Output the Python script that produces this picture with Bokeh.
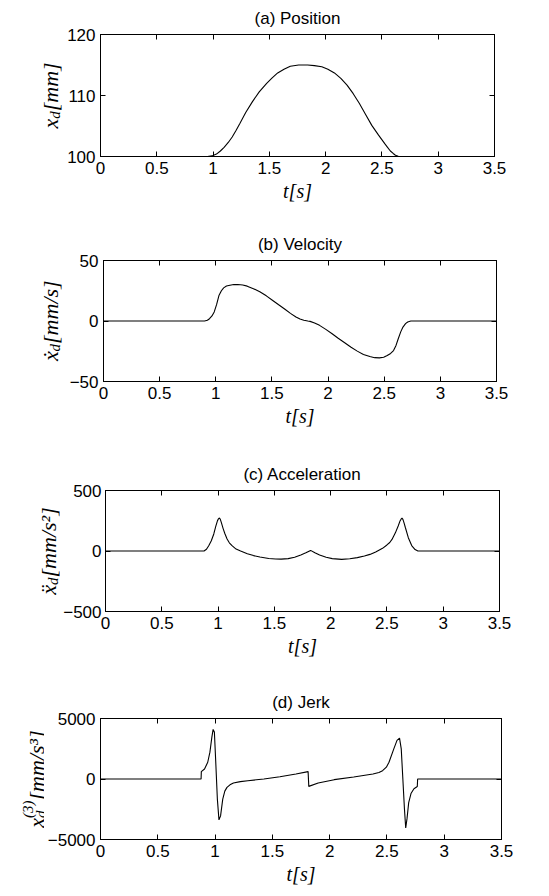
import math
from bokeh.plotting import figure
from bokeh.models import Range1d, FixedTicker, LinearAxis
from bokeh.layouts import column, row
from bokeh.core.properties import value
from bokeh.embed import file_html
from bokeh.resources import INLINE

# ---------------- data ----------------
x_ticks = [0, 0.5, 1, 1.5, 2, 2.5, 3, 3.5]
x_tick_labels = ["0", "0.5", "1", "1.5", "2", "2.5", "3", "3.5"]

# (a) position [mm]
t_pos = [0.0, 0.95, 0.99, 1.03, 1.065, 1.098, 1.135, 1.17, 1.205, 1.238, 1.29,
         1.35, 1.41, 1.476, 1.525, 1.574, 1.63, 1.686, 1.76, 1.84, 1.90,
         1.966, 2.02, 2.078, 2.135, 2.19, 2.245, 2.30, 2.355, 2.41, 2.47,
         2.525, 2.55, 2.575, 2.60, 2.62, 2.645, 2.67, 3.5]
x_pos = [100.0, 100.0, 100.1, 100.4, 100.9, 101.5, 102.3, 103.2, 104.3, 105.4, 107.2,
         109.0, 110.6, 112.0, 112.9, 113.7, 114.3, 114.8, 115.0, 115.0, 114.9,
         114.7, 114.3, 113.7, 112.8, 111.7, 110.3, 108.7, 106.9, 105.1, 103.5,
         102.1, 101.5, 100.9, 100.5, 100.2, 100.05, 100.0, 100.0]

# (b) velocity [mm/s]
t_vel = [0.0, 0.90, 0.925, 0.944, 0.966, 0.986, 1.007, 1.028, 1.05, 1.07, 1.095,
         1.126, 1.16, 1.196, 1.24, 1.28, 1.335, 1.392, 1.45, 1.504, 1.56,
         1.616, 1.665, 1.714, 1.75, 1.784, 1.82, 1.84, 1.88, 1.924, 1.98,
         2.036, 2.09, 2.148, 2.205, 2.26, 2.315, 2.372, 2.415, 2.457, 2.495,
         2.527, 2.557, 2.583, 2.605, 2.625, 2.647, 2.667, 2.69, 2.709, 2.737, 3.5]
v_vel = [0.0, 0.0, 0.6, 1.9, 4.2, 7.5, 13.5, 21.0, 25.0, 27.4, 28.9,
         29.6, 30.1, 30.2, 29.7, 28.8, 26.7, 24.1, 20.8, 17.2, 13.4,
         9.7, 6.3, 3.3, 1.6, 0.6, 0.0, -0.3, -1.6, -3.6, -6.9,
         -10.5, -14.3, -18.0, -21.7, -24.9, -27.6, -29.4, -30.3, -30.5, -30.0,
         -28.5, -26.8, -24.4, -20.2, -14.7, -9.0, -5.0, -2.2, -0.8, 0.0, 0.0]

# (c) acceleration [mm/s^2]
t_acc = [0.0, 0.875, 0.897, 0.917, 0.94, 0.962, 0.98, 0.995, 1.005, 1.012, 1.02,
         1.03, 1.045, 1.06, 1.08, 1.10, 1.124, 1.16, 1.2, 1.26, 1.315, 1.372, 1.45,
         1.511, 1.56, 1.623, 1.68, 1.735, 1.78, 1.822, 1.86, 1.902, 1.96, 2.014,
         2.098, 2.17, 2.237, 2.30, 2.349, 2.40, 2.461, 2.50, 2.525, 2.545, 2.575,
         2.60, 2.615, 2.627, 2.634, 2.642, 2.652, 2.665, 2.69, 2.72, 2.75, 2.775, 3.5]
a_acc = [0.0, 0.0, 15.0, 44.0, 85.0, 141.0, 205.0, 251.0, 268.0, 273.0, 262.0,
         232.0, 185.0, 145.0, 99.0, 68.0, 44.0, 16.0, 0.0, -22.0, -38.0, -50.0, -62.0,
         -66.0, -67.0, -63.0, -52.0, -33.0, -15.0, 5.0, -15.0, -33.0, -52.0, -63.0,
         -69.0, -64.0, -55.0, -42.0, -28.0, -8.0, 22.0, 50.0, 70.0, 96.0, 150.0,
         207.0, 245.0, 265.0, 272.0, 262.0, 232.0, 190.0, 110.0, 45.0, 12.0, 0.0, 0.0]

# (d) jerk [mm/s^3]
t_jerk = [0.0, 0.878, 0.88, 0.908, 0.936, 0.955, 0.972, 0.983, 0.994, 1.006,
          1.02, 1.034, 1.048, 1.067, 1.085, 1.104, 1.13, 1.16, 1.22, 1.286, 1.426, 1.566,
          1.706, 1.812, 1.818, 1.90, 2.04, 2.21, 2.378, 2.43, 2.462, 2.495, 2.518, 2.56,
          2.588, 2.61, 2.625, 2.639, 2.653, 2.664, 2.675, 2.69, 2.71, 2.736,
          2.765, 2.768, 3.5]
j_jerk = [0.0, 0.0, 610.0, 830.0, 1385.0, 2216.0, 3460.0, 4100.0, 3880.0, 1385.0,
          -1660.0, -3380.0, -3050.0, -1660.0, -1000.0, -690.0, -480.0, -330.0, -220.0, -140.0, 0.0, 190.0,
          415.0, 610.0, -610.0, -330.0, -55.0, 166.0, 415.0, 540.0, 690.0, 980.0, 1385.0, 2490.0,
          3190.0, 3380.0, 2490.0, 0.0, -2490.0, -4050.0, -3300.0, -1950.0, -1200.0, -800.0,
          -620.0, 0.0, 0.0]

titles = ["(a) Position", "(b) Velocity", "(c) Acceleration", "(d) Jerk"]
y_ranges = [(100, 120), (-50, 50), (-500, 500), (-5000, 5000)]
y_ticks = [[100, 110, 120], [-50, 0, 50], [-500, 0, 500], [-5000, 0, 5000]]
y_tick_labels = [["100", "110", "120"], ["\u221250", "0", "50"],
                 ["\u2212500", "0", "500"], ["\u22125000", "0", "5000"]]

# y-axis label pieces: (text, role) role: main / sub / sup
ylabel_pieces = [
    [("x", "main"), ("d", "sub"), ("[mm]", "main")],
    [("\u1e8b", "main"), ("d", "sub"), ("[mm/s]", "main")],
    [("\u1e8d", "main"), ("d", "sub"), ("[mm/s\u00b2]", "main")],
    [("x", "main"), ("(3)", "sup"), ("d", "sub"), ("[mm/s\u00b3]", "main")],
]

# ---------------- styling / layout ----------------
TOTAL_W = 540
SANS = "Liberation Sans"
SERIF = "Liberation Serif"
TICK_FS = "17px"
LAB = 22      # y-label main size
SUB = 15      # sub/superscript size

# per panel: fig height, border top, border bottom, frame left (page), frame right (page),
#            label strip width, label baseline x, y tick-label standoff
geo = [
    (226, 34, 70, 98, 494, 64, 50, 5),
    (228, 33, 73, 101, 496, 66, 50, 5),
    (228, 36, 71, 102, 499, 60, 48, 4),
    (208, 36, 51, 97, 501, 44, 36, 5),
]

# approximate advance widths (em) of the serif italic glyphs
ADV = {"x": .444, "\u1e8b": .444, "\u1e8d": .444, "d": .5, "(": .333, ")": .333,
       "3": .5, "[": .389, "]": .389, "m": .722, "/": .278, "s": .389,
       "\u00b2": .3, "\u00b3": .3}


def width(txt, size):
    return sum(ADV.get(c, .5) for c in txt) * size


def style_axis(ax, ticks, labels, show, standoff=5):
    ax.ticker = FixedTicker(ticks=ticks)
    ax.major_label_overrides = {float(k): v for k, v in zip(ticks, labels)}
    ax.minor_tick_line_color = None
    ax.major_tick_in = 5
    ax.major_tick_out = 0
    ax.axis_line_color = "black"
    ax.axis_line_width = 1
    ax.major_tick_line_color = "black"
    ax.major_label_text_font = SANS
    ax.major_label_text_color = "black"
    if show:
        ax.major_label_text_font_size = TICK_FS
        ax.major_label_standoff = standoff
    else:
        ax.major_label_text_font_size = "0px"
        ax.major_label_standoff = 0
        ax.axis_label = None


series = [(t_pos, x_pos), (t_vel, v_vel), (t_acc, a_acc), (t_jerk, j_jerk)]
rows = []
for i in range(4):
    h, bt, bb, fl, fr, lw, xb, ysd = geo[i]
    mw = TOTAL_W - lw
    fh = h - bt - bb
    p = figure(width=mw, height=h, x_range=Range1d(0, 3.5),
               y_range=Range1d(*y_ranges[i]), output_backend="svg",
               toolbar_location=None, min_border_left=fl - lw,
               min_border_right=TOTAL_W - fr,
               min_border_top=bt, min_border_bottom=bb)
    p.grid.visible = False
    p.outline_line_color = "black"
    p.background_fill_color = "white"
    p.border_fill_color = "white"

    bottom = p.xaxis[0]
    left = p.yaxis[0]
    style_axis(bottom, x_ticks, x_tick_labels, True)
    style_axis(left, y_ticks[i], y_tick_labels[i], True, ysd)
    top = LinearAxis()
    style_axis(top, x_ticks, x_tick_labels, False)
    p.add_layout(top, "above")
    right = LinearAxis()
    style_axis(right, y_ticks[i], y_tick_labels[i], False)
    p.add_layout(right, "right")

    bottom.axis_label = "t[s]"
    bottom.axis_label_text_font = SERIF
    bottom.axis_label_text_font_style = "italic"
    bottom.axis_label_text_font_size = "20px"
    bottom.axis_label_standoff = 3
    bottom.axis_label_text_color = "black"

    p.title.text = titles[i]
    p.title.align = "center"
    p.title.text_font = SANS
    p.title.text_font_style = "normal"
    p.title.text_font_size = "17px"
    p.title.text_color = "black"
    p.title.standoff = 13

    t, v = series[i]
    p.line(t, v, line_color="black", line_width=1.1)

    # label strip (left of the panel); its frame spans the same rows as the
    # panel frame, and its data units are pixels inside that frame
    q = figure(width=lw, height=h, x_range=Range1d(0, lw), y_range=Range1d(0, fh),
               output_backend="svg", toolbar_location=None, title=None,
               x_axis_type=None, y_axis_type=None, min_border_left=0,
               min_border_right=0, min_border_top=bt, min_border_bottom=bb)
    q.grid.visible = False
    q.outline_line_color = None
    q.background_fill_color = "white"
    q.border_fill_color = "white"

    pieces = ylabel_pieces[i]
    head = pieces[0][0]
    tail = pieces[-1][0]
    script_w = max(width(tx, SUB) for tx, role in pieces if role != "main")
    total = width(head, LAB) + script_w + width(tail, LAB)
    ymid = 0.5 * fh
    y0 = ymid - total / 2.0
    y_script = y0 + width(head, LAB)
    y_tail = y_script + script_w

    xs, ys, texts, sizes = [], [], [], []
    for tx, role in pieces:
        if role == "main" and tx == head:
            xs.append(xb); ys.append(y0); sizes.append(f"{LAB}px")
        elif role == "main":
            xs.append(xb); ys.append(y_tail); sizes.append(f"{LAB}px")
        elif role == "sub":
            xs.append(xb + 4); ys.append(y_script); sizes.append(f"{SUB}px")
        else:
            xs.append(xb - 9); ys.append(y_script); sizes.append(f"{SUB}px")
        texts.append(tx)
    q.text(x=xs, y=ys, text=texts, angle=math.pi / 2, text_align="left",
           text_baseline="alphabetic", text_font=value(SERIF),
           text_font_style="italic", text_font_size=sizes, text_color="black")
    rows.append(row(q, p, spacing=0))

layout = column(*rows, spacing=0)
open("out.html", "w").write(file_html(layout, INLINE))
